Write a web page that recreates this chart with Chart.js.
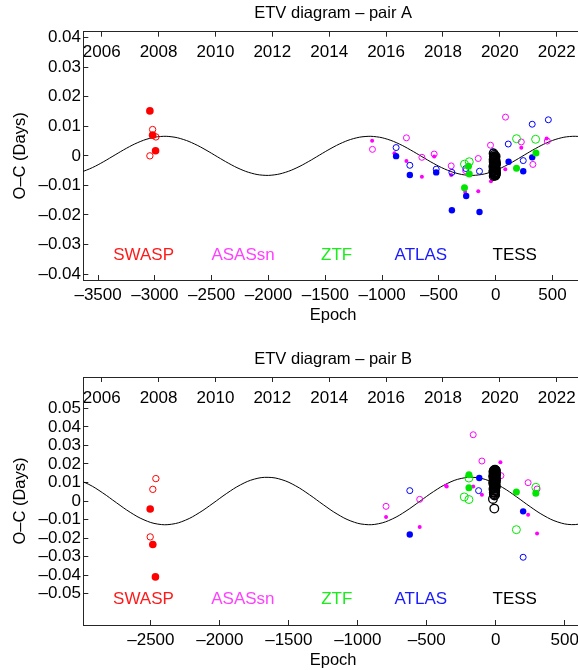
<!DOCTYPE html>
<html><head><meta charset="utf-8">
<script src="https://cdn.jsdelivr.net/npm/chart.js@4/dist/chart.umd.min.js"></script>
<style>
html,body{margin:0;padding:0;background:#fff;width:578px;height:670px;overflow:hidden}
#cA{position:absolute;left:0;top:0}
#cB{position:absolute;left:0;top:346px}
</style></head><body>
<canvas id="cA" width="583" height="330"></canvas>
<canvas id="cB" width="583" height="324"></canvas>
<script>
// ---------- shared ----------
const sourceNames = ['SWASP', 'ASASsn', 'ZTF', 'ATLAS', 'TESS'];
const yearTicks = [2006, 2008, 2010, 2012, 2014, 2016, 2018, 2020, 2022];

// ---------- pair A ----------
const aEpochTicks = [-3500, -3000, -2500, -2000, -1500, -1000, -500, 0, 500];
const aOCTicks = [-0.04, -0.03, -0.02, -0.01, 0, 0.01, 0.02, 0.03, 0.04];
const aCurveE = [-3650,-3550,-3450,-3350,-3250,-3150,-3050,-2950,-2850,-2750,-2650,-2550,-2450,-2350,-2250,-2150,-2050,-1950,-1850,-1750,-1650,-1550,-1450,-1350,-1250,-1150,-1050,-950,-850,-750,-650,-550,-450,-350,-250,-150,-50,50,150,250,350,450,550,650,750,850];
const aCurveOC = [-0.00554,-0.00398,-0.00194,0.00033,0.00257,0.00449,0.00587,0.00655,0.00644,0.00555,0.00400,0.00196,-0.00031,-0.00254,-0.00447,-0.00586,-0.00655,-0.00644,-0.00556,-0.00401,-0.00198,0.00029,0.00252,0.00446,0.00585,0.00654,0.00645,0.00558,0.00403,0.00200,-0.00026,-0.00250,-0.00444,-0.00584,-0.00654,-0.00645,-0.00559,-0.00405,-0.00203,0.00024,0.00248,0.00442,0.00583,0.00654,0.00646,0.00560];
const aSwaspFilledE = [-3044, -3020, -2994];
const aSwaspFilledOC = [0.0152, 0.0070, 0.0017];
const aSwaspOpenE = [-3020, -2991, -3044];
const aSwaspOpenOC = [0.0089, 0.0064, 0.0000];
const aAsasFilledE = [-1088, -891, -786, -650, -542, -392, -269, -154, -42, 84, 225, 448];
const aAsasFilledOC = [0.0051, 0.0009, -0.0017, -0.0071, -0.0002, -0.0065, -0.0122, -0.0120, -0.0086, -0.0045, 0.0027, 0.0059];
const aAsasOpenE = [-1085, -786, -650, -542, -392, -265, -154, -46, 86, 225, 327, 454];
const aAsasOpenOC = [0.0022, 0.0061, -0.0005, 0.0006, -0.0034, -0.0050, -0.0009, 0.0036, 0.0131, 0.0047, -0.0029, 0.0050];
const aZtfFilledE = [-275, -240, -233, 183, 354];
const aZtfFilledOC = [-0.0108, -0.0035, -0.0061, -0.0042, 0.0010];
const aZtfOpenE = [-275, -233, 183, 351];
const aZtfOpenOC = [-0.0028, -0.0020, 0.0058, 0.0056];
const aAtlasFilledE = [-877, -756, -524, -386, -260, -143, 113, 242, 321];
const aAtlasFilledOC = [-0.0001, -0.0065, -0.0056, -0.0184, -0.0136, -0.0190, -0.0020, -0.0052, -0.0005];
const aAtlasOpenE = [-877, -756, -524, -386, -263, -143, -25, 110, 242, 321, 463];
const aAtlasOpenOC = [0.0028, -0.0032, -0.0045, -0.0056, -0.0043, -0.0052, 0.0014, 0.0040, -0.0016, 0.0107, 0.0122];
const aTessE = [-18,-5,-11,2,-15,-8,-1,-20,-6,-13,1,-17,-9,-3,-21,-7,-14,0,-10,3,-16,-4,-12,-2,-19,-7,-15,-5,-10,-17,-15,-19,-3,-12,0,-9,
  -4,-14,-8,1,-19,-11,-2,-16,-6,-13,0,-9,-18,-3,-12,-7,-15,-1,-10,-5];
const aTessOC = [-0.0068,-0.0066,-0.0063,-0.0061,-0.0059,-0.0057,-0.0054,-0.0052,-0.0050,-0.0047,-0.0045,-0.0043,-0.0041,-0.0038,-0.0036,-0.0034,-0.0031,-0.0029,-0.0027,-0.0025,-0.0022,-0.0020,-0.0018,-0.0015,-0.0013,-0.0011,-0.0009,-0.0006,-0.0004,-0.0002,0.0003,0.0008,-0.0049,-0.0033,-0.0060,-0.0017,
  -0.0067,-0.0064,-0.0058,-0.0055,-0.0051,-0.0048,-0.0044,-0.0040,-0.0037,-0.0032,-0.0028,-0.0024,-0.0021,-0.0016,-0.0012,-0.0008,-0.0005,-0.0001,-0.0056,-0.0039];

// ---------- pair B ----------
const bEpochTicks = [-2500, -2000, -1500, -1000, -500, 0, 500];
const bOCTicks = [-0.05, -0.04, -0.03, -0.02, -0.01, 0, 0.01, 0.02, 0.03, 0.04, 0.05];
const bCurveE = [-3050,-2950,-2850,-2750,-2650,-2550,-2450,-2350,-2250,-2150,-2050,-1950,-1850,-1750,-1650,-1550,-1450,-1350,-1250,-1150,-1050,-950,-850,-750,-650,-550,-450,-350,-250,-150,-50,50,150,250,350,450,550,650];
const bCurveOC = [0.01194,0.00898,0.00442,-0.00092,-0.00610,-0.01019,-0.01248,-0.01255,-0.01039,-0.00638,-0.00125,0.00411,0.00874,0.01182,0.01279,0.01150,0.00817,0.00338,-0.00200,-0.00703,-0.01081,-0.01267,-0.01229,-0.00972,-0.00542,-0.00016,0.00512,0.00950,0.01219,0.01272,0.01098,0.00730,0.00232,-0.00307,-0.00791,-0.01135,-0.01278,-0.01194];
const bSwaspFilledE = [-2505, -2486, -2467];
const bSwaspFilledOC = [-0.0043, -0.0235, -0.0410];
const bSwaspOpenE = [-2464, -2486, -2505];
const bSwaspOpenOC = [0.0121, 0.0063, -0.0194];
const bAsasFilledE = [-795, -551, -355, -360, -163, -100, 34, 235, 300];
const bAsasFilledOC = [-0.0086, -0.0140, 0.0079, 0.0082, 0.0079, 0.0034, 0.0209, -0.0074, -0.0176];
const bAsasOpenE = [-795, -551, -163, -100, 38, 235, 300];
const bAsasOpenOC = [-0.0029, 0.0009, 0.0358, 0.0216, 0.0137, 0.0099, 0.0065];
const bZtfFilledE = [-194, -194, 150, 291];
const bZtfFilledOC = [0.0142, 0.0072, 0.0049, 0.0042];
const bZtfOpenE = [-194, -228, -194, 150, 291];
const bZtfOpenOC = [0.0124, 0.0022, 0.0008, -0.0155, 0.0074];
const bAtlasFilledE = [-623, -119, 199];
const bAtlasFilledOC = [-0.0181, 0.0124, -0.0056];
const bAtlasOpenE = [-623, -124, 199];
const bAtlasOpenOC = [0.0056, 0.0056, -0.0304];
const bTessE = [-5,-12,2,-9,-16,0,-7,-14,3,-10,-3,-17,-6,1,-13,-8,-1,-15,-4,2,-11,-6,-18,0,-9,-2,-14,-7,1,-12,-5,-16,-8,-3,-10,-6,-13,-9,-20,-10,
  -2,-15,-8,0,-11,-4,-17,-7,1,-13,-9,-3,-16,-6,-1,-12,-8,-14,-4,-10];
const bTessOC = [0.0169,0.0166,0.0163,0.0160,0.0157,0.0154,0.0151,0.0148,0.0145,0.0142,0.0139,0.0136,0.0133,0.0130,0.0126,0.0123,0.0120,0.0117,0.0114,0.0111,0.0108,0.0105,0.0101,0.0098,0.0095,0.0091,0.0087,0.0083,0.0079,0.0075,0.0070,0.0065,0.0060,0.0055,0.0049,0.0043,0.0037,0.0030,0.0011,-0.0041,
  0.0167,0.0161,0.0155,0.0149,0.0143,0.0137,0.0131,0.0125,0.0119,0.0113,0.0106,0.0100,0.0093,0.0085,0.0077,0.0068,0.0058,0.0046,0.0034,0.0162];

// ---------- styling / helpers ----------
const FONT = "'Liberation Sans', Arial, Helvetica, sans-serif";
Chart.defaults.font.family = FONT;
Chart.defaults.color = '#000';
const INK = '#262626';
const COL = { SWASP: '#ff0000', ASASsn: '#ff00ff', ZTF: '#00e600', ATLAS: '#0000ff', TESS: '#000000' };
const TEXTCOL = ['#ff1a1a', '#ff40ff', '#1aee1a', '#1a1aff', '#000000'];

function pts(xs, ys) { return xs.map((x, i) => ({ x: x, y: ys[i] })); }
function markers(label, xs, ys, color, filled, r, order, bw) {
  return {
    label: label, data: pts(xs, ys), showLine: false, order: order,
    pointRadius: r, pointHoverRadius: r,
    pointBackgroundColor: filled ? color : 'rgba(0,0,0,0)',
    pointBorderColor: color, pointBorderWidth: filled ? 0 : (bw || 1)
  };
}
function curve(xs, ys) {
  return { label: 'fit', data: pts(xs, ys), showLine: true, borderColor: '#000', borderWidth: 1,
    pointRadius: 0, tension: 0.4, order: 20 };
}
function dash(s) { return s.replace('-', '\u2013'); }
function zeroPad(s) { s.paddingLeft = 0; s.paddingRight = 0; s.paddingTop = 0; s.paddingBottom = 0; }

const sourceLabels = {
  id: 'sourceLabels',
  afterDatasetsDraw(chart, args, o) {
    const ctx = chart.ctx, x = chart.scales.x, y = chart.scales.y;
    ctx.save();
    ctx.font = '17px ' + FONT;
    ctx.textAlign = 'center';
    ctx.textBaseline = 'middle';
    sourceNames.forEach((n, i) => {
      ctx.fillStyle = TEXTCOL[i];
      ctx.fillText(n, x.getPixelForValue(o.xs[i]), y.getPixelForValue(o.y));
    });
    ctx.restore();
  }
};

function build(id, p) {
  const datasets = [
    markers('TESS', p.tess[0], p.tess[1], COL.TESS, false, 4.3, 1, 1.3),
    markers('SWASP', p.swF[0], p.swF[1], COL.SWASP, true, 3.8, 3),
    markers('SWASP', p.swO[0], p.swO[1], COL.SWASP, false, 3.2, 3),
    markers('ZTF', p.ztF[0], p.ztF[1], COL.ZTF, true, 3.5, 4),
    markers('ZTF', p.ztO[0], p.ztO[1], COL.ZTF, false, 4, 4),
    markers('ATLAS', p.atF[0], p.atF[1], COL.ATLAS, true, 3.2, 5),
    markers('ATLAS', p.atO[0], p.atO[1], COL.ATLAS, false, 3, 5),
    markers('ASASsn', p.asF[0], p.asF[1], COL.ASASsn, true, 2, 6),
    markers('ASASsn', p.asO[0], p.asO[1], COL.ASASsn, false, 3, 6),
    curve(p.curve[0], p.curve[1])
  ];
  return new Chart(document.getElementById(id), {
    type: 'scatter',
    data: { datasets: datasets },
    plugins: [sourceLabels],
    options: {
      responsive: false, animation: false, events: [],
      layout: { padding: 0, autoPadding: false },
      plugins: {
        legend: { display: false }, tooltip: { enabled: false },
        title: { display: true, text: p.title, fullSize: false, color: '#000',
          font: { size: 16.5, weight: 'normal' }, padding: p.titlePad },
        sourceLabels: { xs: p.labelX, y: p.labelY }
      },
      scales: {
        x: {
          type: 'linear', position: 'bottom', min: p.xMin, max: p.xMax,
          afterBuildTicks: s => { s.ticks = p.xTicks.map(v => ({ value: v })); },
          afterFit: s => { s.height = p.xAxisH; zeroPad(s); },
          ticks: { autoSkip: false, maxRotation: 0, minRotation: 0, padding: 10.3, color: '#000',
            font: { size: 17 }, callback: v => dash(String(v)) },
          grid: { drawOnChartArea: false, tickLength: -5, color: INK, tickColor: INK },
          border: { color: INK, width: 1 },
          title: { display: true, text: 'Epoch', color: '#000', font: { size: 16.5 },
            padding: { top: 0, bottom: p.epochPad } }
        },
        year: {
          type: 'linear', position: 'top', axis: 'x', min: 2005.353, max: 2022.925,
          afterBuildTicks: s => { s.ticks = yearTicks.map(v => ({ value: v })); },
          afterFit: s => { s.height = 0; zeroPad(s); },
          ticks: { autoSkip: false, mirror: true, maxRotation: 0, minRotation: 0, padding: 10.8, color: '#000',
            font: { size: 17 }, callback: v => String(v) },
          grid: { drawOnChartArea: false, tickLength: -5, color: INK, tickColor: INK },
          border: { color: INK, width: 1 }
        },
        y: {
          type: 'linear', position: 'left', min: p.yMin, max: p.yMax,
          afterBuildTicks: s => { s.ticks = p.yTicks.map(v => ({ value: v })); },
          afterFit: s => { s.width = 83.3; },
          ticks: { autoSkip: false, padding: 7.3, color: '#000', font: { size: 17 },
            callback: v => Math.abs(v) < 1e-9 ? '0' : dash((Math.round(v * 100) / 100).toFixed(2)) },
          grid: { drawOnChartArea: false, tickLength: -5, color: INK, tickColor: INK },
          border: { color: INK, width: 1 },
          title: { display: true, text: 'O\u2013C (Days)', color: '#000', font: { size: 16.5 },
            padding: { top: 10.6, bottom: 0 } }
        }
      }
    }
  });
}

build('cA', {
  title: 'ETV diagram \u2013 pair A', titlePad: { top: 3.6, bottom: 8.3 },
  xMin: -3630, xMax: 768, yMin: -0.042, yMax: 0.042, xTicks: aEpochTicks, yTicks: aOCTicks,
  xAxisH: 50, epochPad: 5.1,
  labelX: [-3099, -2224, -1400, -659, 167], labelY: -0.0335,
  curve: [aCurveE, aCurveOC],
  swF: [aSwaspFilledE, aSwaspFilledOC], swO: [aSwaspOpenE, aSwaspOpenOC],
  asF: [aAsasFilledE, aAsasFilledOC], asO: [aAsasOpenE, aAsasOpenOC],
  ztF: [aZtfFilledE, aZtfFilledOC], ztO: [aZtfOpenE, aZtfOpenOC],
  atF: [aAtlasFilledE, aAtlasFilledOC], atO: [aAtlasOpenE, aAtlasOpenOC],
  tess: [aTessE, aTessOC]
});

build('cB', {
  title: 'ETV diagram \u2013 pair B', titlePad: { top: 3.1, bottom: 8.1 },
  xMin: -2990, xMax: 633, yMin: -0.067, yMax: 0.067, xTicks: bEpochTicks, yTicks: bOCTicks,
  xAxisH: 45, epochPad: 0,
  labelX: [-2554, -1833, -1152, -543, 138], labelY: -0.0532,
  curve: [bCurveE, bCurveOC],
  swF: [bSwaspFilledE, bSwaspFilledOC], swO: [bSwaspOpenE, bSwaspOpenOC],
  asF: [bAsasFilledE, bAsasFilledOC], asO: [bAsasOpenE, bAsasOpenOC],
  ztF: [bZtfFilledE, bZtfFilledOC], ztO: [bZtfOpenE, bZtfOpenOC],
  atF: [bAtlasFilledE, bAtlasFilledOC], atO: [bAtlasOpenE, bAtlasOpenOC],
  tess: [bTessE, bTessOC]
});
</script>
</body></html>
